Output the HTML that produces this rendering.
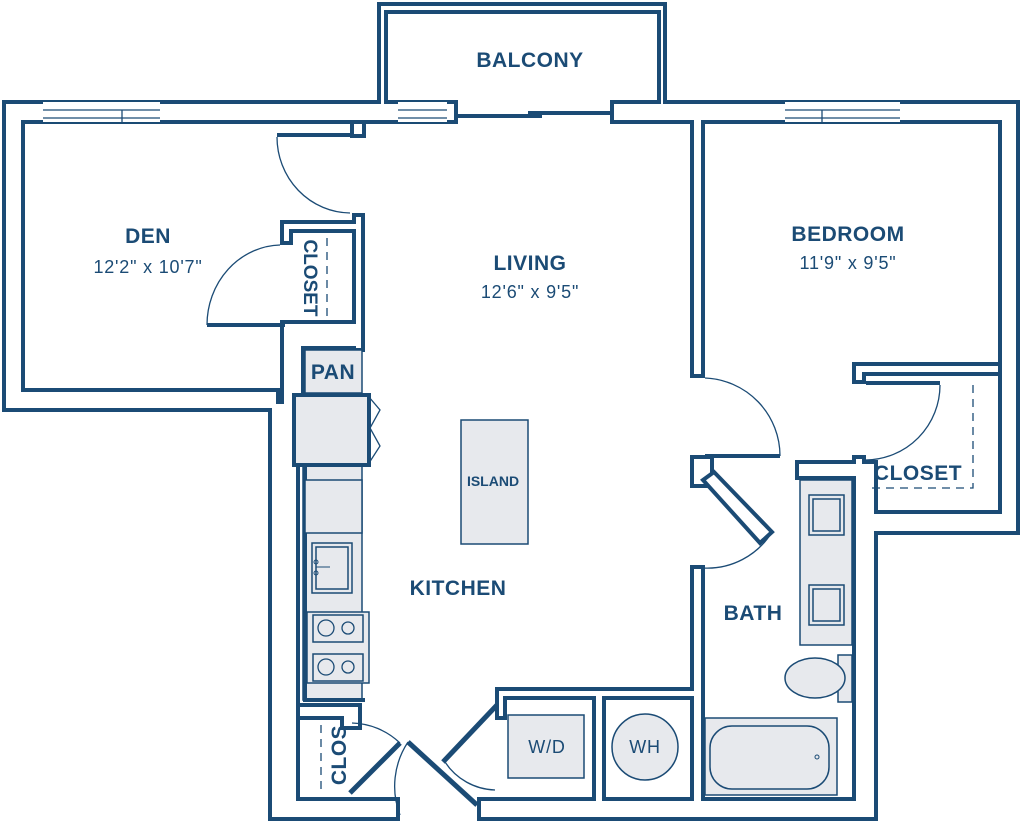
<!DOCTYPE html>
<html><head><meta charset="utf-8"><style>
html,body{margin:0;padding:0;background:#fff;}
svg{display:block;}
.d{fill:#1b4b75;}
.w{fill:#fff;}
.g{fill:#e7e9ed;stroke:#1b4b75;stroke-width:1.5;}
.ln{stroke:#1b4b75;fill:none;}
text{font-family:"Liberation Sans",sans-serif;fill:#1b4b75;text-anchor:middle;}
.b{font-weight:bold;font-size:21px;letter-spacing:0.5px;}
.r{font-size:18px;letter-spacing:0.8px;}
</style></head><body>
<svg width="1024" height="821" viewBox="0 0 1024 821" xmlns="http://www.w3.org/2000/svg">
<g class="d">
<rect x="2" y="100" width="456" height="24"/>
<rect x="2" y="100" width="23" height="312"/>
<rect x="2" y="388" width="278" height="24"/>
<rect x="268" y="400" width="32" height="421"/>
<rect x="280" y="320" width="25" height="92"/>
<rect x="280" y="220" width="85" height="13"/>
<rect x="352" y="213" width="13" height="139"/>
<rect x="280" y="220" width="13" height="25"/>
<rect x="280" y="320" width="85" height="30"/>
<rect x="350" y="120" width="16" height="18"/>
<rect x="377" y="2" width="11" height="102"/>
<rect x="377" y="2" width="290" height="12"/>
<rect x="657" y="2" width="10" height="102"/>
<rect x="610" y="100" width="410" height="24"/>
<rect x="690" y="100" width="15" height="278"/>
<rect x="998" y="100" width="22" height="435"/>
<rect x="852" y="362" width="150" height="14"/>
<rect x="852" y="362" width="14" height="22"/>
<rect x="862" y="510" width="158" height="25"/>
<rect x="852" y="455" width="14" height="80"/>
<rect x="852" y="460" width="26" height="361"/>
<rect x="795" y="460" width="71" height="20"/>
<rect x="690" y="455" width="24" height="33"/>
<rect x="690" y="565" width="15" height="256"/>
<rect x="495" y="687" width="208" height="13"/>
<rect x="495" y="687" width="12" height="33"/>
<rect x="592" y="687" width="14" height="120"/>
<rect x="268" y="797" width="132" height="24"/>
<rect x="477" y="797" width="401" height="24"/>
<rect x="296" y="703" width="59" height="17"/>
<rect x="340" y="703" width="22" height="27"/>
</g>
<g class="w">
<rect x="6" y="104" width="448" height="16"/>
<rect x="6" y="104" width="15" height="304"/>
<rect x="6" y="392" width="270" height="16"/>
<rect x="272" y="404" width="24" height="413"/>
<rect x="284" y="324" width="17" height="84"/>
<rect x="284" y="224" width="77" height="5"/>
<rect x="356" y="217" width="5" height="131"/>
<rect x="284" y="224" width="5" height="17"/>
<rect x="284" y="324" width="77" height="22"/>
<rect x="354" y="124" width="8" height="10"/>
<rect x="381" y="6" width="3" height="98"/>
<rect x="381" y="6" width="282" height="4"/>
<rect x="661" y="6" width="2" height="98"/>
<rect x="614" y="104" width="402" height="16"/>
<rect x="694" y="104" width="7" height="270"/>
<rect x="1002" y="104" width="14" height="427"/>
<rect x="856" y="366" width="142" height="6"/>
<rect x="856" y="366" width="6" height="14"/>
<rect x="866" y="514" width="150" height="17"/>
<rect x="856" y="459" width="6" height="72"/>
<rect x="856" y="464" width="18" height="353"/>
<rect x="799" y="464" width="63" height="12"/>
<rect x="694" y="459" width="16" height="25"/>
<rect x="694" y="569" width="7" height="248"/>
<rect x="499" y="691" width="200" height="5"/>
<rect x="499" y="691" width="4" height="25"/>
<rect x="596" y="691" width="6" height="112"/>
<rect x="272" y="801" width="124" height="16"/>
<rect x="481" y="801" width="393" height="16"/>
<rect x="300" y="707" width="51" height="9"/>
<rect x="344" y="707" width="14" height="19"/>
</g>
<g>
<rect x="43" y="102" width="117" height="20" fill="#fff"/>
<rect x="398" y="102" width="49" height="20" fill="#fff"/>
<rect x="785" y="102" width="115" height="20" fill="#fff"/>
<g class="ln" stroke-width="1.3">
<path d="M43,101H160M43,110H160M43,118H160M43,123H160M122,110V123"/>
<path d="M398,101H447M398,110H447M398,118H447M398,123H447"/>
<path d="M785,101H900M785,110H900M785,118H900M785,123H900M822,110V123"/>
</g>
</g>
<rect x="458" y="114" width="84" height="4" class="d"/>
<rect x="528" y="111" width="82" height="4" class="d"/>
<g class="ln">
<path d="M277,135H353" stroke-width="4"/>
<path d="M277,137A74,76 0 0 0 350,213" stroke-width="1.3"/>
<path d="M207,325H285" stroke-width="4"/>
<path d="M280,245A75,80 0 0 0 207,325" stroke-width="1.3"/>
<path d="M705,456H780" stroke-width="4"/>
<path d="M705,378A78,78 0 0 1 780,456" stroke-width="1.3"/>
<path d="M866,383H940" stroke-width="4"/>
<path d="M940,385A75,75 0 0 1 866,460" stroke-width="1.3"/>
<path d="M772,532A76,76 0 0 1 703,568" stroke-width="1.3"/>
<path d="M350,793L400,743" stroke-width="5"/>
<path d="M352,723A72,72 0 0 1 400,743" stroke-width="1.3"/>
<path d="M408,742L477,805" stroke-width="5"/>
<path d="M408,742A80,80 0 0 0 400,815" stroke-width="1.3"/>
<path d="M443,762L497,705" stroke-width="5"/>
<path d="M445,762A62,62 0 0 0 495,790" stroke-width="1.3"/>
</g>
<polygon points="703,480 714,472 772,532 760,543" fill="#fff" stroke="#1b4b75" stroke-width="4"/>
<g class="ln" stroke-width="1.3" stroke-dasharray="8,6">
<path d="M327,238V318"/>
<path d="M973,385V488H866"/>
<path d="M321,725V790"/>
</g>
<rect x="305" y="350" width="57" height="43" class="g" stroke-width="0"/>
<rect x="303" y="465" width="59" height="235" class="g"/>
<path d="M305,465V700H365" class="ln" stroke-width="4"/>
<rect x="294" y="395" width="75" height="70" class="g" style="stroke-width:4"/>
<path d="M369,397L380,410L370,428L380,446L369,463" class="ln" stroke-width="1.3"/>
<rect x="305" y="480" width="57" height="53" class="g"/>
<rect x="312" y="543" width="40" height="50" class="g"/>
<rect x="316" y="547" width="32" height="42" class="g"/>
<circle cx="316" cy="562" r="2" class="ln"/><circle cx="316" cy="573" r="2" class="ln"/><path d="M316,567H330" class="ln"/>
<rect x="307" y="612" width="62" height="71" class="g"/>
<rect x="313" y="615" width="50" height="27" class="g"/>
<rect x="313" y="654" width="50" height="27" class="g"/>
<circle cx="326" cy="628" r="8" class="ln" stroke-width="1.3"/><circle cx="348" cy="628" r="6" class="ln" stroke-width="1.3"/>
<circle cx="326" cy="667" r="8" class="ln" stroke-width="1.3"/><circle cx="348" cy="667" r="6" class="ln" stroke-width="1.3"/>
<rect x="461" y="420" width="67" height="124" class="g"/>
<rect x="508" y="715" width="76" height="63" class="g"/>
<circle cx="645" cy="747" r="33" class="g"/>
<rect x="800" y="480" width="52" height="165" class="g"/>
<rect x="809" y="495" width="35" height="40" class="g"/>
<rect x="813" y="499" width="27" height="32" class="g"/>
<rect x="809" y="585" width="35" height="40" class="g"/>
<rect x="813" y="589" width="27" height="32" class="g"/>
<rect x="838" y="655" width="14" height="47" class="g"/>
<ellipse cx="815" cy="678" rx="30" ry="20" class="g"/>
<rect x="705" y="718" width="132" height="77" class="g"/>
<rect x="710" y="726" width="119" height="63" rx="22" class="g"/>
<circle cx="817" cy="757" r="2" class="ln"/>
<text x="530" y="67" class="b">BALCONY</text>
<text x="148" y="243" class="b">DEN</text>
<text x="148" y="273" class="r">12'2" x 10'7"</text>
<text x="530" y="270" class="b">LIVING</text>
<text x="530" y="298" class="r">12'6" x 9'5"</text>
<text x="848" y="241" class="b">BEDROOM</text>
<text x="848" y="269" class="r">11'9" x 9'5"</text>
<text x="458" y="595" class="b">KITCHEN</text>
<text x="753" y="620" class="b">BATH</text>
<text x="333" y="379" class="b">PAN</text>
<text x="918" y="480" class="b">CLOSET</text>
<text x="493" y="486" style="font-weight:bold;font-size:14px">ISLAND</text>
<text x="547" y="753" class="r">W/D</text>
<text x="645" y="753" class="r">WH</text>
<text x="0" y="0" style="font-weight:bold;font-size:19px" transform="translate(304,278) rotate(90)">CLOSET</text>
<text x="0" y="0" class="b" transform="translate(346,755) rotate(-90)">CLOS</text>
</svg>
</body></html>
